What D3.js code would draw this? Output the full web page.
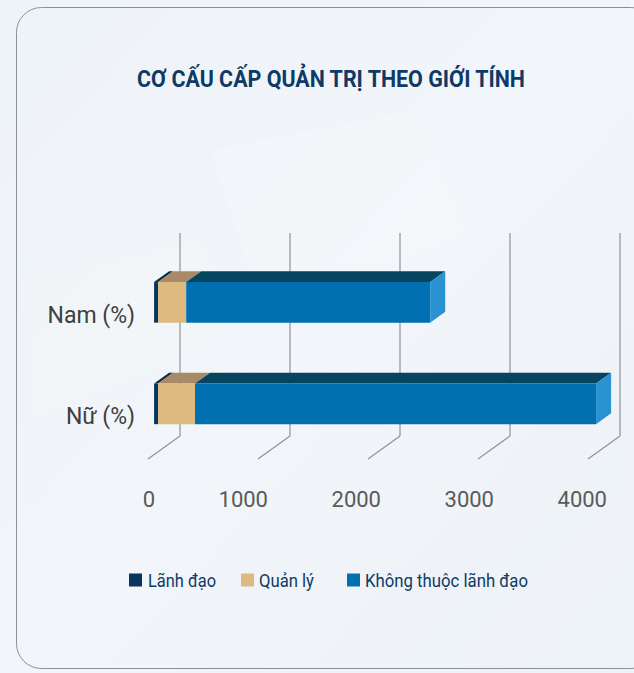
<!DOCTYPE html>
<html>
<head>
<meta charset="utf-8">
<script src="https://cdn.jsdelivr.net/npm/d3@7"></script>
<style>
  html, body { margin: 0; padding: 0; background: #eef3f8; }
  svg { display: block; }
</style>
</head>
<body>
<div id="chart"></div>
<script>
const categories = ['Nam (%)', 'Nữ (%)'];
const seriesNames = ['Lãnh đạo', 'Quản lý', 'Không thuộc lãnh đạo'];
const lanhDao = [36, 36];
const quanLy = [256, 336];
const khongThuoc = [2218, 3646];
const tickValues = [0, 1000, 2000, 3000, 4000];

const width = 634;
const height = 673;

const colors = {
  front: ['#06355f', '#dcba80', '#0070b0'],
  top: ['#0a2a45', '#a88b66', '#06455f'],
  side: ['#0a3a6a', '#c8a670', '#2b92d2']
};

const svg = d3.select('#chart')
  .append('svg')
  .attr('width', width)
  .attr('height', height);

// Background
const defs = svg.append('defs');
const bg = defs.append('linearGradient')
  .attr('id', 'bg')
  .attr('x1', 0).attr('y1', 0).attr('x2', 1).attr('y2', 1);
bg.append('stop').attr('offset', '0%').attr('stop-color', '#eef3f8');
bg.append('stop').attr('offset', '50%').attr('stop-color', '#f2f5f9');
bg.append('stop').attr('offset', '100%').attr('stop-color', '#edf2f7');

svg.append('rect')
  .attr('width', width)
  .attr('height', height)
  .attr('fill', 'url(#bg)');

// faint light shapes
svg.append('path')
  .attr('d', 'M210,150 L420,110 L470,240 L260,300 Z')
  .attr('fill', '#ffffff')
  .attr('opacity', 0.15);
svg.append('path')
  .attr('d', 'M20,280 L200,240 L240,330 L30,420 Z')
  .attr('fill', '#ffffff')
  .attr('opacity', 0.12);

// Card
svg.append('rect')
  .attr('x', 16.5)
  .attr('y', 7.5)
  .attr('width', 640)
  .attr('height', 661)
  .attr('rx', 25)
  .attr('fill', 'none')
  .attr('stroke', '#8a9199')
  .attr('stroke-width', 1);

// Title
svg.append('text')
  .attr('x', 137)
  .attr('y', 87)
  .attr('textLength', 388)
  .attr('lengthAdjust', 'spacingAndGlyphs')
  .attr('font-family', '"Liberation Sans Narrow", "Roboto", sans-serif')
  .attr('font-weight', 700)
  .attr('font-size', 24)
  .attr('fill', '#0d3a66')
  .text('CƠ CẤU CẤP QUẢN TRỊ THEO GIỚI TÍNH');

// 3D geometry
const depthX = 32;
const depthY = -23;
const floorY = 459;
const topY = 256;
const barZ0 = 0.19;
const barZ1 = 0.66;

const x = d3.scaleLinear().domain([0, 4000]).range([148, 588]);
const y = d3.scaleBand().domain(categories).range([topY, floorY]).paddingInner(0.6).paddingOuter(0.3);

const proj = (px, py, z) => [px + z * depthX, py + z * depthY];
const poly = (pts) => 'M' + pts.map((p) => p.join(',')).join('L') + 'Z';

// Gridlines: vertical on back wall, diagonal on floor
const grid = svg.append('g');
tickValues.forEach((v) => {
  const [bx, by] = proj(x(v), floorY, 1);
  const [tx, ty] = proj(x(v), topY, 1);
  grid.append('line')
    .attr('x1', bx).attr('y1', by)
    .attr('x2', tx).attr('y2', ty)
    .attr('stroke', '#a3a6aa')
    .attr('stroke-width', 1.5);
  grid.append('line')
    .attr('x1', x(v)).attr('y1', floorY)
    .attr('x2', bx).attr('y2', by)
    .attr('stroke', '#8f9397')
    .attr('stroke-width', 1.2);
});

// Axis labels
const labelX = d3.scaleLinear().domain([0, 4000]).range([x(0) + 7, x(4000) + 19]);
svg.append('g')
  .selectAll('text')
  .data(tickValues)
  .enter()
  .append('text')
  .attr('x', (d) => labelX(d))
  .attr('y', 507)
  .attr('text-anchor', 'end')
  .attr('font-family', 'Roboto, sans-serif')
  .attr('font-size', 22)
  .attr('fill', '#5a5a5a')
  .text((d) => d);

// Category labels
svg.append('g')
  .selectAll('text')
  .data(categories)
  .enter()
  .append('text')
  .attr('x', 135)
  .attr('y', (d) => y(d) + y.bandwidth() / 2 + 16)
  .attr('text-anchor', 'end')
  .attr('font-family', 'Roboto, sans-serif')
  .attr('font-size', 23)
  .attr('fill', '#3f3f3f')
  .text((d) => d);

// Stacked 3D bars
const table = categories.map((c, i) => ({
  category: c,
  'Lãnh đạo': lanhDao[i],
  'Quản lý': quanLy[i],
  'Không thuộc lãnh đạo': khongThuoc[i]
}));
const stacked = d3.stack().keys(seriesNames)(table);

const bars = svg.append('g');
categories.forEach((c, ci) => {
  const y0 = y(c);
  const y1 = y(c) + y.bandwidth();
  stacked.forEach((layer, si) => {
    const [v0, v1] = layer[ci];
    const xa = x(v0);
    const xb = x(v1);
    const g = bars.append('g');
    // top face
    g.append('path')
      .attr('d', poly([proj(xa, y0, barZ0), proj(xb, y0, barZ0), proj(xb, y0, barZ1), proj(xa, y0, barZ1)]))
      .attr('fill', colors.top[si]);
    // front face
    g.append('path')
      .attr('d', poly([proj(xa, y0, barZ0), proj(xb, y0, barZ0), proj(xb, y1, barZ0), proj(xa, y1, barZ0)]))
      .attr('fill', colors.front[si]);
    // right side face on the last segment
    if (si === stacked.length - 1) {
      g.append('path')
        .attr('d', poly([proj(xb, y0, barZ0), proj(xb, y0, barZ1), proj(xb, y1, barZ1), proj(xb, y1, barZ0)]))
        .attr('fill', colors.side[si]);
    }
  });
});

// Legend
const legendItems = [
  { name: seriesNames[0], sx: 129, tx: 148, len: 68 },
  { name: seriesNames[1], sx: 241, tx: 259, len: 55 },
  { name: seriesNames[2], sx: 347, tx: 365, len: 163 }
];
const legend = svg.append('g');
legendItems.forEach((item, i) => {
  legend.append('rect')
    .attr('x', item.sx)
    .attr('y', 573.5)
    .attr('width', 13)
    .attr('height', 13)
    .attr('fill', colors.front[i]);
  legend.append('text')
    .attr('x', item.tx)
    .attr('y', 587)
    .attr('textLength', item.len)
    .attr('lengthAdjust', 'spacingAndGlyphs')
    .attr('font-family', '"Liberation Sans Narrow", "Roboto", sans-serif')
    .attr('font-size', 19)
    .attr('fill', '#0d3a66')
    .text(item.name);
});
</script>
</body>
</html>
